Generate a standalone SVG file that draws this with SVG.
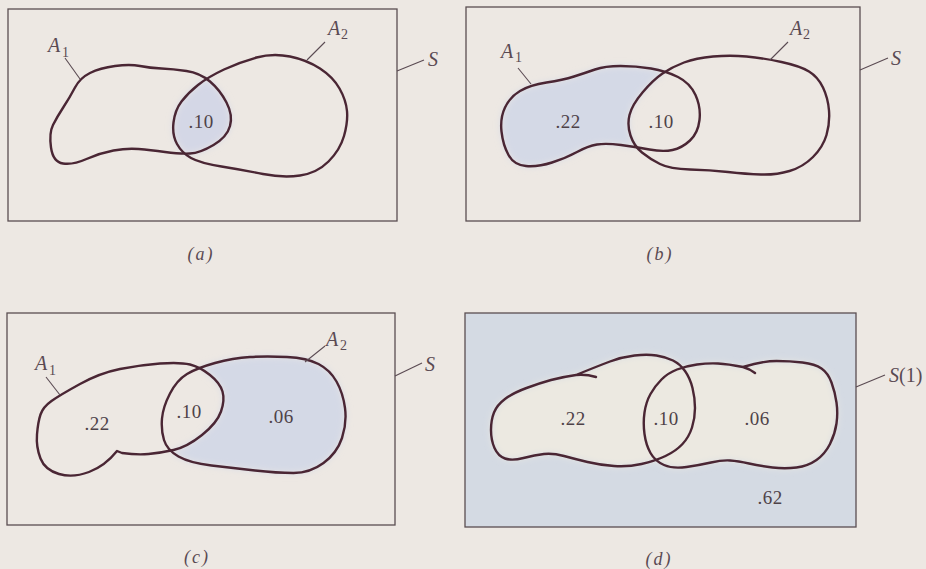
<svg xmlns="http://www.w3.org/2000/svg" xmlns:xlink="http://www.w3.org/1999/xlink" width="926" height="569" viewBox="0 0 926 569">
<style>
.frame{fill:none;stroke:#5a4e52;stroke-width:1.3}
.curve{fill:none;stroke:#4a2634;stroke-width:2.4;stroke-linejoin:round;stroke-linecap:round}
.lead{fill:none;stroke:#5a4a52;stroke-width:1.1}
text{font-family:'Liberation Serif','Times New Roman',Times,serif}
.it{font-style:italic;font-size:20px;fill:#5a4a52}
.sub{font-size:14px;fill:#5a4a52}
.num{font-size:19px;fill:#4e4248;text-anchor:middle;letter-spacing:0.5px}
.cap{font-style:italic;font-size:18px;fill:#5a4a52;text-anchor:middle;letter-spacing:2px}
.up{font-style:normal}
</style>
<defs>
<filter id="soft" x="-20%" y="-20%" width="140%" height="140%"><feGaussianBlur stdDeviation="3.5"/></filter>
<path id="a1" d="M 90,73 Q 100,68 115,66 Q 130,64 140,66 Q 150,68 161.5,68.5 Q 173,69 186.5,71 Q 200,73 210,81.5 Q 220,90 226.5,102.5 Q 233,115 230,126 Q 227,137 213.5,145 Q 200,153 190,153.5 Q 180,154 165,152 Q 150,150 138.5,149 Q 127,148 113.5,150.5 Q 100,153 86.5,159 Q 73,165 63,163.5 Q 53,162 51,147.5 Q 49,133 53,125 Q 57,117 63.5,107 Q 70,97 75,87.5 Q 80,78 90,73 Z"/>
<path id="a2" d="M 224,69.5 Q 240,62 256.5,57.5 Q 273,53 290,56.5 Q 307,60 320,68.5 Q 333,77 339.5,88.5 Q 346,100 347,111 Q 348,122 344,136 Q 340,150 328.5,161.5 Q 317,173 300,175.5 Q 283,178 263,174 Q 243,170 221.5,166.5 Q 200,163 191,158 Q 182,153 177,144 Q 172,135 173.5,122.5 Q 175,110 181.5,101.5 Q 188,93 198,85 Q 208,77 224,69.5 Z"/>
<path id="b1" d="M 520,91 Q 530,85 546.5,82.5 Q 563,80 574,76.5 Q 585,73 595,69.5 Q 605,66 620.5,66 Q 636,66 651,68.5 Q 666,71 678,77 Q 690,83 695.5,95 Q 701,107 699.5,120 Q 698,133 690,140.5 Q 682,148 672.5,150 Q 663,152 649.5,149.5 Q 636,147 621,145 Q 606,143 597,144.5 Q 588,146 577,152 Q 566,158 552,162.5 Q 538,167 526,166 Q 514,165 508.5,155 Q 503,145 501.5,131.5 Q 500,118 505,107.5 Q 510,97 520,91 Z"/>
<path id="b2" d="M 662.5,73.5 Q 672,67 684,62.5 Q 696,58 713,56.5 Q 730,55 746.5,56.5 Q 763,58 781.5,62 Q 800,66 809,71.5 Q 818,77 823,87.5 Q 828,98 829,110.5 Q 830,123 826.5,135 Q 823,147 813,157 Q 803,167 789.5,171 Q 776,175 761,174.5 Q 746,174 728,172 Q 710,170 690,169.5 Q 670,169 660,164 Q 650,159 642,152.5 Q 634,146 630.5,135.5 Q 627,125 629.5,115 Q 632,105 642.5,92.5 Q 653,80 662.5,73.5 Z"/>
<path id="c1" d="M 51.5,401 Q 60,395 80,384 Q 100,373 120,369 Q 140,365 160,363.5 Q 180,362 190,364.5 Q 200,367 210,375 Q 220,383 222.5,391.5 Q 225,400 221,411.5 Q 217,423 202,435 Q 187,447 173.5,450 Q 160,453 148.5,454 Q 137,455 122,453 L 117,451 Q 105,466 89,472 Q 73,478 59,474 Q 45,470 40.5,458.5 Q 36,447 37,434.5 Q 38,422 40.5,414.5 Q 43,407 51.5,401 Z"/>
<path id="c2" d="M 215,363 Q 233,358 250,357 Q 267,356 287,357 Q 307,358 318.5,364 Q 330,370 336.5,381.5 Q 343,393 345,408 Q 347,423 342,438 Q 337,453 323.5,463 Q 310,473 293.5,473 Q 277,473 255,470.5 Q 233,468 211.5,465.5 Q 190,463 178.5,456.5 Q 167,450 164,440 Q 161,430 162,418.5 Q 163,407 170,393.5 Q 177,380 187,374 Q 197,368 215,363 Z"/>
<path id="d1" d="M 576,375 Q 598,366 610,361.5 Q 622,357 634.5,355.5 Q 647,354 656.5,355.5 Q 666,357 673,360.5 Q 680,364 685,371 Q 690,378 692.5,388 Q 695,398 695,408 Q 695,418 692,427.5 Q 689,437 682.5,444 Q 676,451 665.5,456 Q 655,461 641.5,464 Q 628,467 614,466 Q 600,465 587.5,462 Q 575,459 564,456 Q 553,453 544,454 Q 535,455 523.5,458 Q 512,461 505,458.5 Q 498,456 494.5,448 Q 491,440 491,430 Q 491,420 494,412.5 Q 497,405 505,399 Q 513,393 526.5,388 Q 540,383 551,380 Q 562,377 576,375 Q 586,374 596,377"/>
<path id="d2" d="M 743,367 Q 763,361 776.5,361 Q 790,361 802.5,362.5 Q 815,364 821.5,368.5 Q 828,373 831.5,382.5 Q 835,392 836.5,402.5 Q 838,413 836.5,423.5 Q 835,434 830,444 Q 825,454 816.5,460 Q 808,466 796.5,467.5 Q 785,469 772.5,467.5 Q 760,466 749,463.5 Q 738,461 730,460.5 Q 722,460 711,462.5 Q 700,465 686.5,467 Q 673,469 664,465 Q 655,461 650.5,453 Q 646,445 644.5,434 Q 643,423 644.5,412.5 Q 646,402 650.5,394 Q 655,386 661.5,379.5 Q 668,373 677,369.5 Q 686,366 697,364.5 Q 708,363 718,363.5 Q 728,364 743,367 Q 750,369 755,373"/>
<clipPath id="clipA2"><use xlink:href="#a2"/></clipPath>
<mask id="maskB" maskUnits="userSpaceOnUse" x="0" y="0" width="926" height="569"><use xlink:href="#b1" fill="#fff"/><use xlink:href="#b2" fill="#000"/></mask>
<mask id="maskC" maskUnits="userSpaceOnUse" x="0" y="0" width="926" height="569"><use xlink:href="#c2" fill="#fff"/><use xlink:href="#c1" fill="#000"/></mask>
</defs>

<rect x="0" y="0" width="926" height="569" fill="#ede8e3"/>

<!-- Panel (a) -->
<g id="panel-a">
  <g id="shade-a" filter="url(#soft)"><use xlink:href="#a1" fill="#d4d7e6" clip-path="url(#clipA2)"/></g>
  <rect id="S-a" class="frame" x="8" y="9" width="389" height="212"/>
  <g id="A1-a"><use xlink:href="#a1" class="curve"/><text class="it" x="48" y="52">A</text><text class="sub" x="62" y="57">1</text></g>
  <g id="A2-a"><use xlink:href="#a2" class="curve"/><text class="it" x="328" y="35">A</text><text class="sub" x="341" y="39">2</text></g>
  <text class="it" x="428" y="66">S</text>
  <text class="num" x="201" y="128">.10</text>
  <text class="cap" x="201" y="260">(a)</text>
</g>

<!-- Panel (b) -->
<g id="panel-b">
  <g id="shade-b" filter="url(#soft)"><rect x="490" y="50" width="230" height="130" fill="#d4d9e6" mask="url(#maskB)"/></g>
  <rect id="S-b" class="frame" x="466" y="7" width="394" height="214"/>
  <g id="A1-b"><use xlink:href="#b1" class="curve"/><text class="it" x="501" y="58">A</text><text class="sub" x="515" y="62">1</text></g>
  <g id="A2-b"><use xlink:href="#b2" class="curve"/><text class="it" x="790" y="35">A</text><text class="sub" x="803" y="39">2</text></g>
  <text class="it" x="891" y="65">S</text>
  <text class="num" x="568" y="128">.22</text>
  <text class="num" x="661" y="128">.10</text>
  <text class="cap" x="660" y="260">(b)</text>
</g>

<!-- Panel (c) -->
<g id="panel-c">
  <g id="shade-c" filter="url(#soft)"><rect x="150" y="345" width="210" height="140" fill="#d4d9e6" mask="url(#maskC)"/></g>
  <rect id="S-c" class="frame" x="7" y="313" width="388" height="212"/>
  <g id="A1-c"><use xlink:href="#c1" class="curve"/><text class="it" x="35" y="370">A</text><text class="sub" x="49" y="375">1</text></g>
  <g id="A2-c"><use xlink:href="#c2" class="curve"/><text class="it" x="326" y="346">A</text><text class="sub" x="340" y="350">2</text></g>
  <text class="it" x="425" y="371">S</text>
  <text class="num" x="97" y="430">.22</text>
  <text class="num" x="189" y="418">.10</text>
  <text class="num" x="281" y="423">.06</text>
  <text class="cap" x="197" y="563">(c)</text>
</g>

<!-- Panel (d) -->
<g id="panel-d">
  <rect id="S-d" x="465" y="313" width="391" height="214" fill="#d4dae3" stroke="#5a4e52" stroke-width="1.3"/>
  <g id="inner-d" filter="url(#soft)"><use xlink:href="#d1" fill="#ece9e1"/><use xlink:href="#d2" fill="#ece9e1"/></g>
  <g id="A1-d"><use xlink:href="#d1" class="curve"/></g>
  <g id="A2-d"><use xlink:href="#d2" class="curve"/></g>
  <text class="it" x="889" y="382">S<tspan class="up">(1)</tspan></text>
  <text class="num" x="573" y="425">.22</text>
  <text class="num" x="666" y="425">.10</text>
  <text class="num" x="757" y="425">.06</text>
  <text class="num" x="770" y="504">.62</text>
  <text class="cap" x="659" y="565">(d)</text>
</g>

<!-- leader lines -->
<g id="connectors">
  <line class="lead" x1="65" y1="58" x2="80" y2="79"/>
  <line class="lead" x1="325" y1="42" x2="307" y2="60"/>
  <line class="lead" x1="424" y1="60" x2="397" y2="71"/>
  <line class="lead" x1="518" y1="68" x2="531" y2="84"/>
  <line class="lead" x1="788" y1="42" x2="770" y2="60"/>
  <line class="lead" x1="888" y1="58" x2="860" y2="70"/>
  <line class="lead" x1="46" y1="377" x2="60" y2="395"/>
  <line class="lead" x1="325" y1="346" x2="305" y2="362"/>
  <line class="lead" x1="422" y1="363" x2="395" y2="376"/>
  <line class="lead" x1="885" y1="375" x2="856" y2="387"/>
</g>
</svg>
